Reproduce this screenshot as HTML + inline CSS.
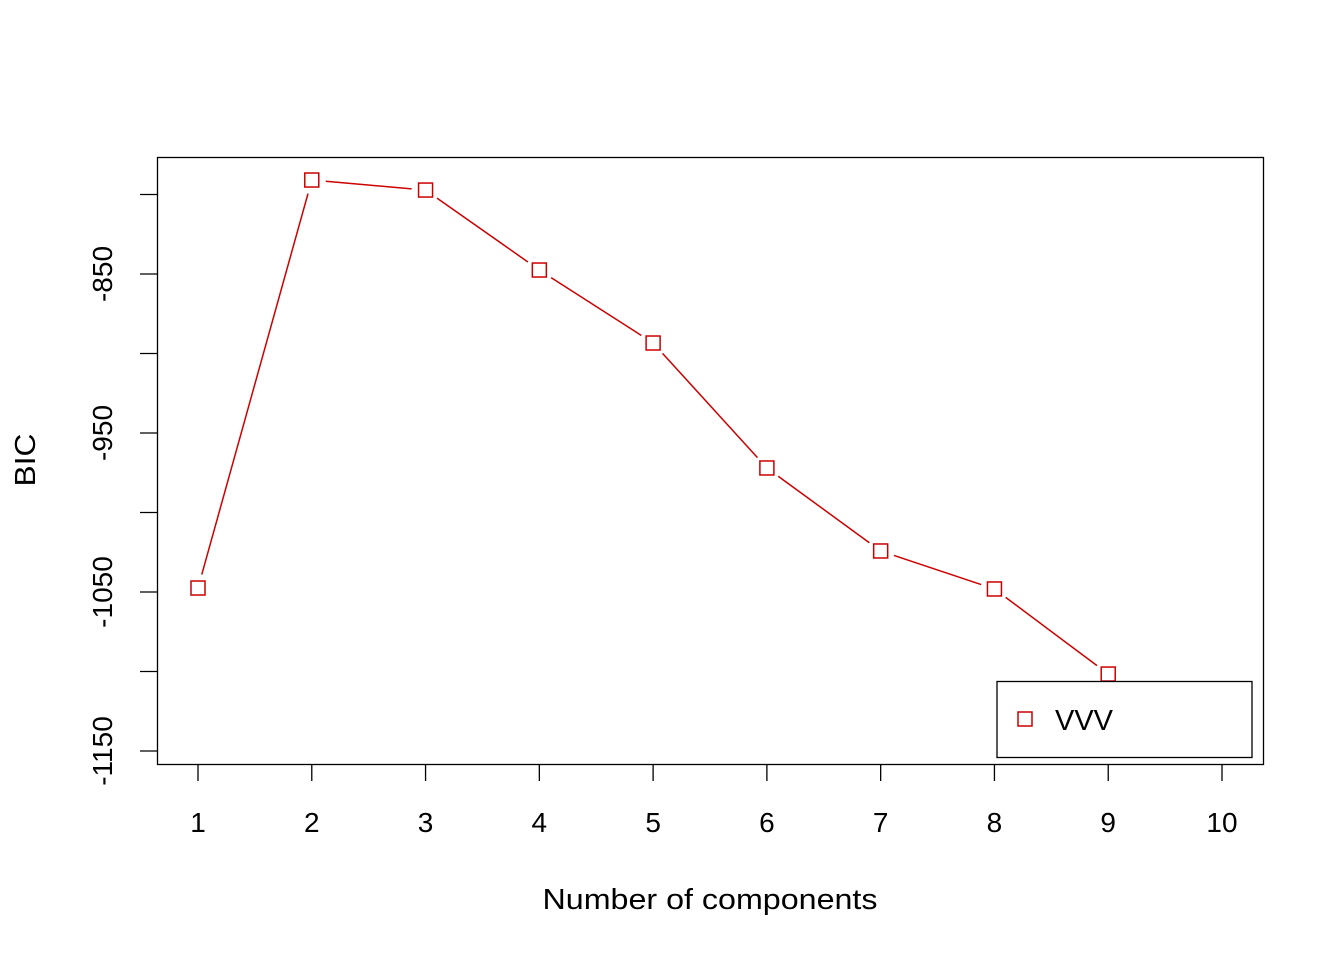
<!DOCTYPE html>
<html><head><meta charset="utf-8"><style>
body{margin:0;background:#fff}
svg text{font-family:"Liberation Sans",Arial,sans-serif;fill:#000}
</style></head><body>
<svg id="chart" width="1344" height="960" xmlns="http://www.w3.org/2000/svg">
<rect x="157.5" y="157.5" width="1106" height="607" fill="none" stroke="#000" stroke-width="1.3"/>
<g id="xaxis"></g>
<g id="yaxis"></g>
<g id="series"></g>
<text x="710" y="909" font-size="29" text-anchor="middle" textLength="335" lengthAdjust="spacingAndGlyphs">Number of components</text>
<text transform="translate(35,460) rotate(-90)" font-size="29" text-anchor="middle" textLength="53" lengthAdjust="spacingAndGlyphs">BIC</text>
<g>
<rect x="997" y="681.5" width="255" height="76" fill="#fff" stroke="#000" stroke-width="1.3"/>
<rect x="1018" y="712" width="14" height="14" fill="none" stroke="#cd0000" stroke-width="1.5"/>
<text x="1055" y="730" font-size="29">VVV</text>
</g>
</svg>
<script>
const categories=[1,2,3,4,5,6,7,8,9,10];
const bicValues=[-1047.5,-790.9,-797.2,-847.5,-893.4,-972,-1024.2,-1048.1,-1101.6,null];
const yTicks=[-800,-850,-900,-950,-1000,-1050,-1100,-1150];
const yTickLabels=["","-850","","-950","","-1050","","-1150"];
const NS="http://www.w3.org/2000/svg";
function xs(c){return 198+(c-1)*(1222-198)/9;}
function ys(v){return 274+(-850-v)*1.59;}
function mk(tag,attrs,parent){const e=document.createElementNS(NS,tag);for(const k in attrs)e.setAttribute(k,attrs[k]);parent.appendChild(e);return e;}
const xa=document.getElementById('xaxis'),ya=document.getElementById('yaxis'),sg=document.getElementById('series');
categories.forEach(c=>{
 const t=mk('line',{x1:xs(c),x2:xs(c),y1:764,y2:781,stroke:'#000','stroke-width':1.3},xa);
 
 
 const l=mk('text',{x:xs(c),y:832,'font-size':28,'text-anchor':'middle'},xa);l.textContent=c;
 
 
});
yTicks.forEach((v,i)=>{
 const t=mk('line',{x1:140,x2:157,y1:ys(v),y2:ys(v),stroke:'#000','stroke-width':1.3},ya);
 
 
 if(yTickLabels[i]){const l=mk('text',{transform:`translate(112,${ys(v)}) rotate(-90)`,'font-size':28,'text-anchor':'middle'},ya);l.textContent=yTickLabels[i];
 
 }
});
const pts=[];categories.forEach((c,i)=>{if(bicValues[i]!==null)pts.push([xs(c),ys(bicValues[i])]);});
for(let i=0;i<pts.length-1;i++){
 const [x1,y1]=pts[i],[x2,y2]=pts[i+1];const d=Math.hypot(x2-x1,y2-y1),g=14;
 if(d>2*g){const ln=mk('line',{x1:x1+(x2-x1)*g/d,y1:y1+(y2-y1)*g/d,x2:x2-(x2-x1)*g/d,y2:y2-(y2-y1)*g/d,stroke:'#cd0000','stroke-width':1.5},sg);
 
 }
}
pts.forEach(p=>{const r=mk('rect',{x:p[0]-7,y:p[1]-7,width:14,height:14,fill:'none',stroke:'#cd0000','stroke-width':1.5},sg);
 
 });
</script>
</body></html>
